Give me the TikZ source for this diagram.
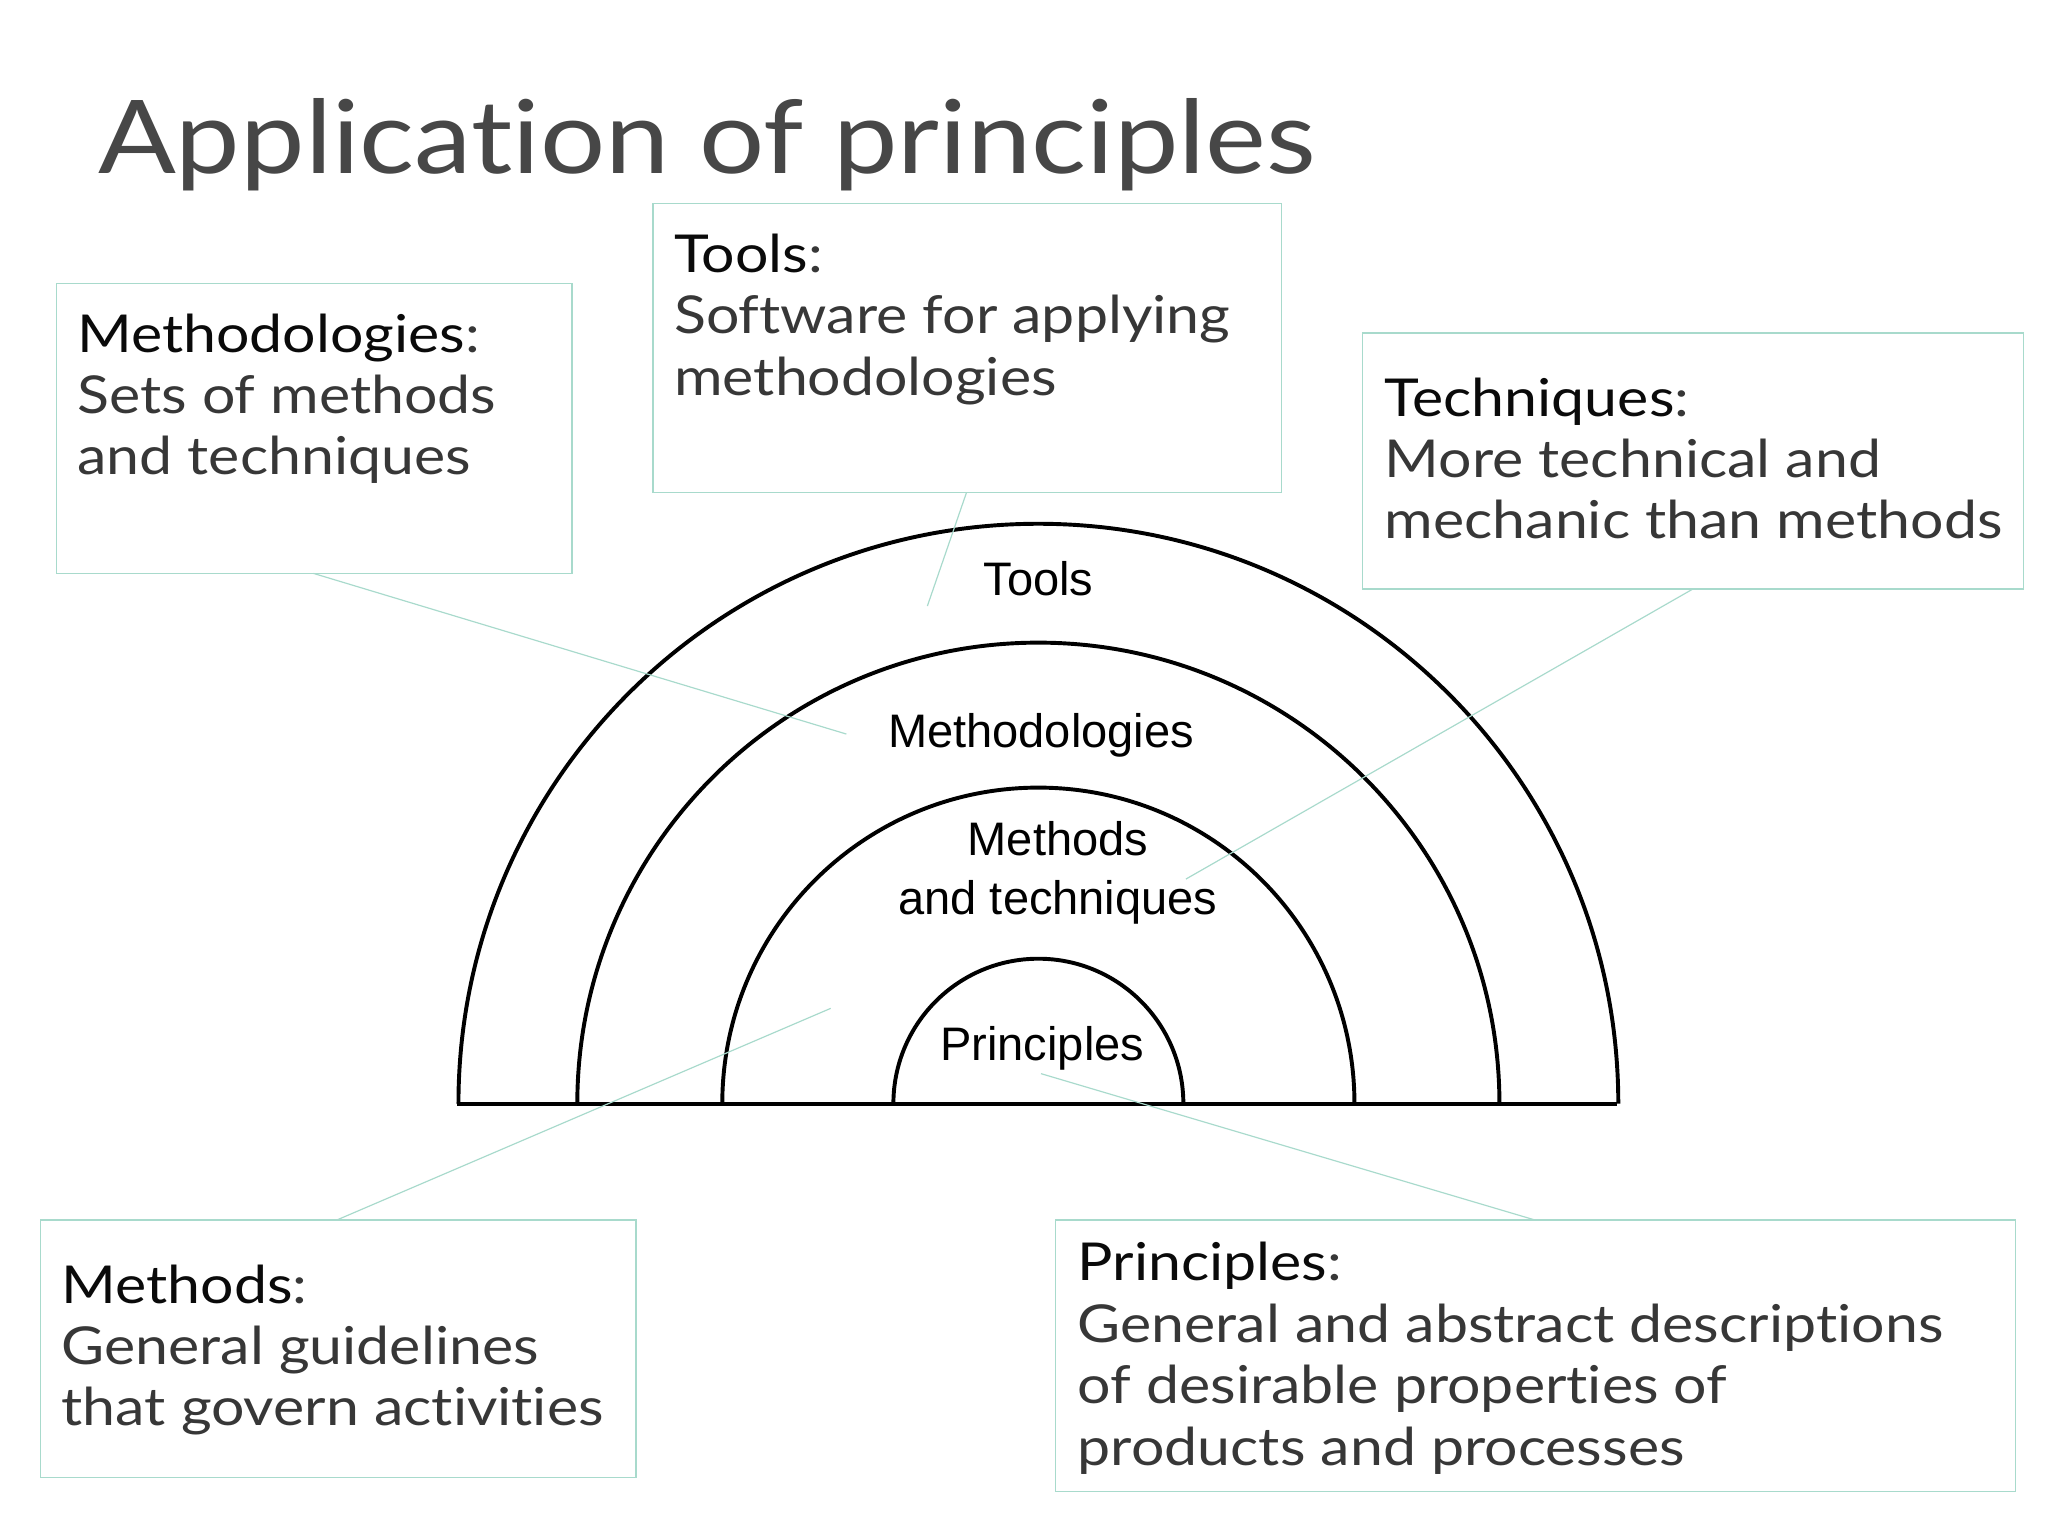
\documentclass[tikz,border=0pt]{standalone}
\usepackage{fontspec}
\setmainfont{Lato}[FakeStretch=1.13,RawFeature=-liga]
\newfontfamily\arialf{Liberation Sans}
\definecolor{boxc}{RGB}{168,218,204}
\definecolor{txtc}{RGB}{55,55,55}
\definecolor{headc}{RGB}{10,10,10}
\begin{document}
\begin{tikzpicture}[x=1pt,y=-1pt,
  infobox/.style={draw=boxc,line width=1pt},
  infotext/.style={anchor=north west,inner sep=0pt,align=left,font=\fontsize{40}{47}\selectfont,text=txtc},
  link/.style={draw=boxc,line width=0.9pt},
  arcl/.style={line width=3pt,black},
  arclabel/.style={font=\arialf\fontsize{36}{45}\selectfont,align=center,inner sep=0pt}]
\useasboundingbox (0,0) rectangle (1568,1176);
\fill[white] (0,0) rectangle (1568,1176);
\node[anchor=base west,inner sep=0pt,text=black!72,font=\fontsize{78}{90}\selectfont] (title) at (75,133) {Application of principles};
% boxes
\draw[infobox] (43,217) rectangle (438,439);
\draw[infobox] (500,156) rectangle (981,377);
\draw[infobox] (1043,255) rectangle (1549,451);
\draw[infobox] (31,934) rectangle (487,1131);
\draw[infobox] (808,934) rectangle (1543,1142);
\node[infotext] (tmeth) at (59,240) {\textcolor{headc}{Methodologies}:\\Sets of methods\\and techniques};
\node[infotext] (ttools) at (516,179) {\textcolor{headc}{Tools}:\\Software for applying\\methodologies};
\node[infotext] (ttech) at (1060,289) {\textcolor{headc}{Techniques}:\\More technical and\\mechanic than methods};
\node[infotext] (tmethods) at (47,968) {\textcolor{headc}{Methods}:\\General guidelines\\that govern activities};
\node[infotext] (tprin) at (825,951) {\textcolor{headc}{Principles}:\\General and abstract descriptions\\of desirable properties of\\products and processes};
% arcs
\draw[arcl] (350,845) -- (1238,845);
\foreach \r in {111,242,353,444}{
  \draw[arcl] (795-\r,845) arc[start angle=180,end angle=0,x radius=\r,y radius=-\r];
}
\node[arclabel] (ltools) at (795,443) {Tools};
\node[arclabel] (lmeth) at (797,563) {Methodologies};
\node[arclabel] (lmethods) at (810,668) {Methods\\\hspace*{0pt}and techniques};
\node[arclabel] (lprin) at (798,803) {Principles};
% connectors
\coordinate (a1) at (240,439); \coordinate (b1) at (648,562);
\coordinate (a2) at (740,377); \coordinate (b2) at (710,464);
\coordinate (a3) at (1296,451); \coordinate (b3) at (908,673);
\coordinate (a4) at (258,934); \coordinate (b4) at (636,772);
\coordinate (a5) at (1175,934); \coordinate (b5) at (797,822);
\draw[link] (a1) -- (b1);
\draw[link] (a2) -- (b2);
\draw[link] (a3) -- (b3);
\draw[link] (a4) -- (b4);
\draw[link] (a5) -- (b5);
\end{tikzpicture}
\end{document}
